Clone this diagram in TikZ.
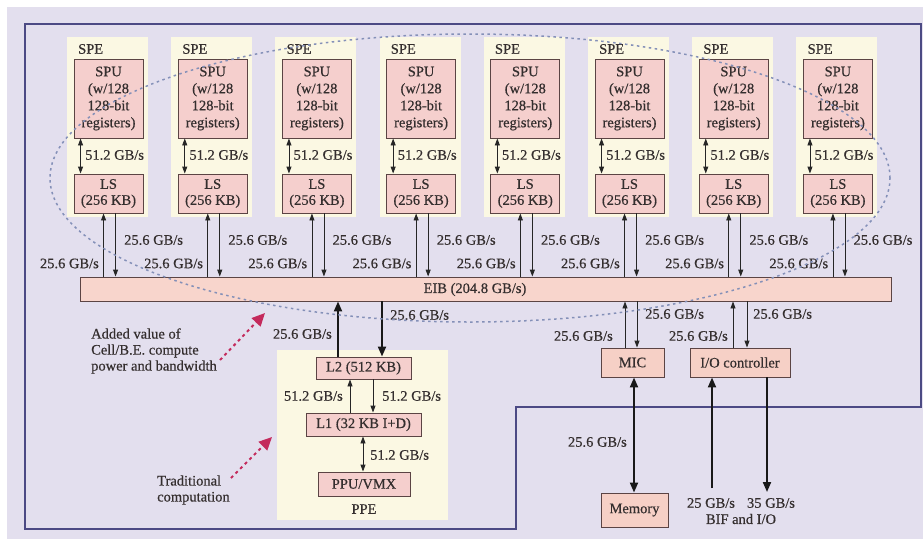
\documentclass[tikz,border=0pt]{standalone}
\usepackage{fontspec}
\setmainfont{Liberation Serif}[FakeBold=0.5]
\usetikzlibrary{arrows.meta,calc}
\definecolor{bglav}{HTML}{E3DFEE}
\definecolor{borderc}{HTML}{4C4A84}
\definecolor{creamc}{HTML}{FBF8E3}
\definecolor{pinkc}{HTML}{F5CFCD}
\definecolor{eibc}{HTML}{F8D5CC}
\definecolor{peachc}{HTML}{F6D0C6}
\definecolor{boxdraw}{HTML}{5B4444}
\definecolor{txtc}{HTML}{342E2E}
\definecolor{ellc}{HTML}{8490B8}
\definecolor{redc}{HTML}{C42A5C}
\begin{document}
\begin{tikzpicture}[x=1pt,y=-1pt,
  txt/.style={font=\fontsize{14.5}{17}\selectfont, text=txtc, inner sep=0pt},
  pbox/.style={draw=boxdraw, line width=0.9pt, fill=pinkc, txt, align=center},
  qbox/.style={draw=boxdraw, line width=0.9pt, fill=peachc, txt, align=center},
  cream/.style={fill=creamc, draw=none, inner sep=0pt},
  thin/.style={draw=black!85, line width=0.9pt, -{Triangle[length=7pt,width=5pt]}},
  thinboth/.style={draw=black!85, line width=0.9pt, {Triangle[length=7pt,width=5pt]}-{Triangle[length=7pt,width=5pt]}},
  thick/.style={draw=black!90, line width=2pt, -{Triangle[length=10pt,width=8pt]}},
  thickboth/.style={draw=black!90, line width=2pt, {Triangle[length=10pt,width=8pt]}-{Triangle[length=10pt,width=8pt]}},
  redarrow/.style={draw=redc, line width=2pt, dash pattern=on 3pt off 3.5pt, -{Triangle[length=13pt,width=12pt]}},
]
\useasboundingbox (0,0) rectangle (923,539);
\fill[white] (0,0) rectangle (923,539);
\fill[bglav] (7,7) rectangle (923,539);
% outer border
\draw[borderc, line width=1.5pt] (25,24) -- (921,24) -- (921,407) -- (516,407) -- (516,529) -- (25,529) -- cycle;

% EIB
\node[draw=boxdraw, line width=0.9pt, fill=eibc, minimum width=811pt, minimum height=24pt, inner sep=0pt] (eib) at (485.5,289) {};
\node[txt] (eibt) at (475,289.5) {EIB (204.8 GB/s)};

% SPE columns
\foreach \i in {0,...,7}{
  \pgfmathsetmacro\xl{74+\i*104.2}
  \pgfmathsetmacro\cx{\xl+34.5}
  \node[cream, minimum width=81pt, minimum height=180pt] (spe\i) at (\cx-1,127) {};
  \node[txt, anchor=west] (spel\i) at (\xl+4,49) {SPE};
  \node[pbox, minimum width=69pt, minimum height=79pt, inner sep=0pt] (spu\i) at (\cx,98.5) {SPU\\(w/128\\128-bit\\registers)};
  \node[pbox, minimum width=69pt, minimum height=39pt, inner sep=0pt] (ls\i) at (\cx,193.5) {LS\\[-1pt](256 KB)};
  \draw[thinboth] ([xshift=7pt]spu\i.south west) -- ([xshift=7pt]ls\i.north west);
  \node[txt, anchor=west] (r51\i) at (\xl+11,155) {51.2 GB/s};
  \coordinate (lsu\i) at ([xshift=30pt]ls\i.south west);
  \coordinate (lsd\i) at ([xshift=42pt]ls\i.south west);
  \draw[thin] (lsu\i |- eib.north) -- (lsu\i);
  \draw[thin] (lsd\i) -- (lsd\i |- eib.north);
  \node[txt, anchor=west] (rr\i) at (\xl+50,240) {25.6 GB/s};
  \node[txt, anchor=east] (rl\i) at (\xl+25,263.5) {25.6 GB/s};
}

% PPE
\node[cream, minimum width=171pt, minimum height=170pt] (ppe) at (362.5,435) {};
\node[pbox, minimum width=95pt, minimum height=22pt, inner sep=0pt] (l2) at (363.5,368) {L2 (512 KB)};
\node[pbox, minimum width=115pt, minimum height=23pt, inner sep=0pt] (l1) at (363.5,424.5) {L1 (32 KB I+D)};
\node[pbox, minimum width=92pt, minimum height=24pt, inner sep=0pt] (ppu) at (364,484) {PPU/VMX};
\node[txt] (ppel) at (364,509) {PPE};

\coordinate (pu) at (338,0);
\coordinate (pd) at (382,0);
\draw[thick] (pu |- l2.north) -- (pu |- eib.south);
\draw[thick] (pd |- eib.south) -- (pd |- l2.north);
\node[txt, anchor=east] (lpu) at (332,334) {25.6 GB/s};
\node[txt, anchor=west] (lpd) at (390,315) {25.6 GB/s};

\coordinate (cu) at (350,0);
\coordinate (cd) at (373,0);
\draw[thin] (cu |- l1.north) -- (cu |- l2.south);
\draw[thin] (cd |- l2.south) -- (cd |- l1.north);
\node[txt, anchor=east] (lcu) at (343,396) {51.2 GB/s};
\node[txt, anchor=west] (lcd) at (382,396) {51.2 GB/s};
\coordinate (cp) at (363,0);
\draw[thinboth] (cp |- l1.south) -- (cp |- ppu.north);
\node[txt, anchor=west] (lcp) at (370,455) {51.2 GB/s};

% MIC, I/O, Memory
\node[qbox, minimum width=63pt, minimum height=29pt, inner sep=0pt] (mic) at (632.5,362.5) {MIC};
\node[qbox, minimum width=100pt, minimum height=29pt, inner sep=0pt] (io) at (740,362.5) {I/O controller};
\node[qbox, minimum width=67pt, minimum height=34pt, inner sep=0pt] (mem) at (634.5,510) {Memory};

\coordinate (mu) at (625,0);
\coordinate (md) at (637,0);
\draw[thin] (mu |- mic.north) -- (mu |- eib.south);
\draw[thin] (md |- eib.south) -- (md |- mic.north);
\node[txt, anchor=west] (lmd) at (645,314) {25.6 GB/s};
\node[txt, anchor=east] (lmu) at (613,336) {25.6 GB/s};

\coordinate (iu) at (733,0);
\coordinate (id) at (747,0);
\draw[thin] (iu |- io.north) -- (iu |- eib.south);
\draw[thin] (id |- eib.south) -- (id |- io.north);
\node[txt, anchor=west] (lid) at (753,314) {25.6 GB/s};
\node[txt, anchor=east] (liu) at (728,336) {25.6 GB/s};

\coordinate (mm) at (634,0);
\draw[thickboth] (mm |- mic.south) -- (mm |- mem.north);
\node[txt, anchor=east] (lmm) at (627,442) {25.6 GB/s};

\coordinate (bifin) at (712,488);
\coordinate (bifout) at (767,492);
\draw[thick] (bifin) -- (bifin |- io.south);
\draw[thick] (bifout |- io.south) -- (bifout);
\node[txt] (l25) at (711,503) {25 GB/s};
\node[txt] (l35) at (771,503) {35 GB/s};
\node[txt] (lbif) at (741,519) {BIF and I/O};

% dotted ellipse
\draw[ellc, line width=1.5pt, dash pattern=on 2.5pt off 3.5pt] (470,178) ellipse [x radius=420pt, y radius=144pt];

% annotations
\node[txt, anchor=west, align=left, font=\fontsize{14.5}{16}\selectfont] (ann1) at (91,351) {Added value of\\Cell/B.E. compute\\power and bandwidth};
\node[txt, anchor=west, align=left, font=\fontsize{14.5}{16}\selectfont] (ann2) at (157,490) {Traditional\\computation};
\coordinate (a1s) at (220,360);
\coordinate (a1e) at (265,313);
\coordinate (a2s) at (231,478);
\coordinate (a2e) at (272,437);
\draw[redarrow] (a1s) -- (a1e);
\draw[redarrow] (a2s) -- (a2e);
\end{tikzpicture}
\end{document}
